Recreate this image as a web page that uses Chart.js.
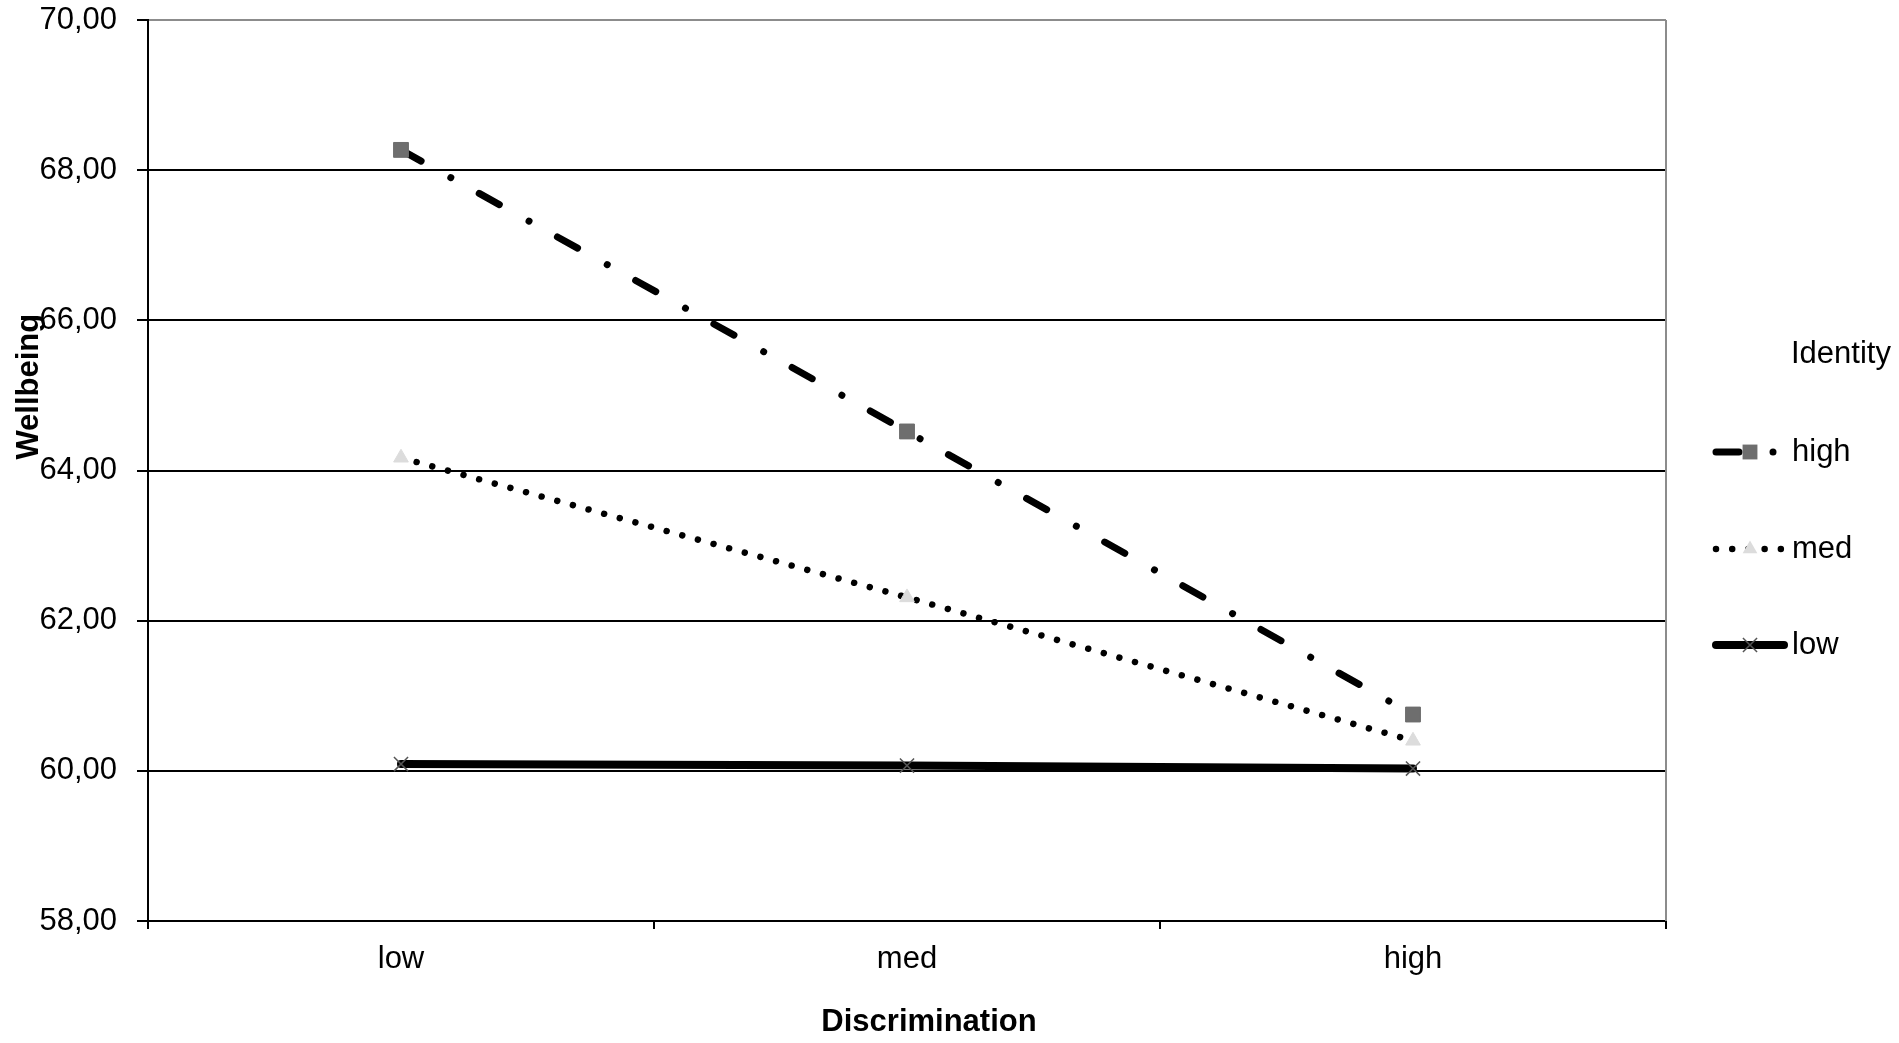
<!DOCTYPE html>
<html>
<head>
<meta charset="utf-8">
<script src="https://cdn.jsdelivr.net/npm/chart.js@4"></script>
<style>
html,body{margin:0;padding:0;background:#fff;}
#wrap{width:1899px;height:1043px;position:relative;}
canvas{display:block;}
</style>
</head>
<body>
<div id="wrap"><canvas id="c" width="1899" height="1043" style="width:1899px;height:1043px"></canvas></div>
<script>
// ---- data ----
const categories = ['low', 'med', 'high'];
const seriesNames = ['high', 'med', 'low'];
const highValues = [68.27, 64.52, 60.75];
const medValues = [64.17, 62.31, 60.40];
const lowValues = [60.09, 60.07, 60.03];
const yMin = 58;
const yMax = 70;
const yStep = 2;
const legendTitle = 'Identity';
const xTitle = 'Discrimination';
const yTitle = 'Wellbeing';

const FONT = "'Liberation Sans', Arial, sans-serif";

const styles = {
  high: { dash: [23, 34, 0.01, 32.5], width: 7, point: 'rect', radius: 10.5, fill: '#6e6e6e', border: '#6e6e6e', bw: 1 },
  med:  { dash: [0.01, 16.2], width: 6.5, point: 'triangle', radius: 8.5, fill: '#dcdcdc', border: '#dcdcdc', bw: 1 },
  low:  { dash: [], width: 8, point: 'crossRot', radius: 10, fill: '#555555', border: '#555555', bw: 1.5 }
};
const seriesValues = { high: highValues, med: medValues, low: lowValues };

const datasets = seriesNames.map(name => {
  const s = styles[name];
  return {
    label: name,
    data: seriesValues[name],
    borderColor: '#000000',
    borderWidth: s.width,
    borderDash: s.dash,
    borderCapStyle: 'round',
    borderJoinStyle: 'round',
    pointStyle: s.point,
    pointRadius: s.radius,
    pointHoverRadius: s.radius,
    pointBackgroundColor: s.fill,
    pointBorderColor: s.border,
    pointBorderWidth: s.bw,
    tension: 0,
    fill: false
  };
});

function drawMarker(ctx, name, x, y) {
  const s = styles[name];
  ctx.save();
  ctx.setLineDash([]);
  if (s.point === 'rect') {
    const h = s.radius * Math.SQRT1_2;
    ctx.fillStyle = s.fill;
    ctx.fillRect(x - h, y - h, 2 * h, 2 * h);
  } else if (s.point === 'triangle') {
    const r = s.radius;
    ctx.fillStyle = s.fill;
    ctx.beginPath();
    ctx.moveTo(x, y - r);
    ctx.lineTo(x + Math.sin(2 * Math.PI / 3) * r, y - Math.cos(2 * Math.PI / 3) * r);
    ctx.lineTo(x + Math.sin(4 * Math.PI / 3) * r, y - Math.cos(4 * Math.PI / 3) * r);
    ctx.closePath();
    ctx.fill();
  } else {
    const o = Math.SQRT1_2 * s.radius;
    ctx.strokeStyle = s.border;
    ctx.lineWidth = s.bw;
    ctx.beginPath();
    ctx.moveTo(x - o, y - o); ctx.lineTo(x + o, y + o);
    ctx.moveTo(x - o, y + o); ctx.lineTo(x + o, y - o);
    ctx.stroke();
  }
  ctx.restore();
}

const decorPlugin = {
  id: 'decor',
  afterDraw(chart) {
    const ctx = chart.ctx;
    const a = chart.chartArea;
    ctx.save();
    // right border of plot area
    ctx.strokeStyle = '#8c8c8c';
    ctx.lineWidth = 2;
    ctx.beginPath();
    ctx.moveTo(a.right, a.top);
    ctx.lineTo(a.right, a.bottom);
    ctx.stroke();

    ctx.fillStyle = '#000';
    // x axis title
    ctx.font = 'bold 31px ' + FONT;
    ctx.textAlign = 'center';
    ctx.textBaseline = 'middle';
    ctx.fillText(xTitle, a.left + (a.right - a.left) * 0.5145, 1022);
    // y axis title
    ctx.save();
    ctx.translate(29, a.top + (a.bottom - a.top) * 0.407);
    ctx.rotate(-Math.PI / 2);
    ctx.fillText(yTitle, 0, 0);
    ctx.restore();

    // legend
    const lx0 = 1713, lx1 = 1787, tx = 1791;
    ctx.font = '31px ' + FONT;
    ctx.textAlign = 'left';
    ctx.textBaseline = 'middle';
    ctx.fillText(legendTitle, tx, 354);
    const ys = [452, 549, 645];
    seriesNames.forEach((name, i) => {
      const s = styles[name];
      const y = ys[i];
      ctx.save();
      ctx.strokeStyle = '#000';
      ctx.lineWidth = s.width;
      ctx.lineCap = 'round';
      ctx.setLineDash(s.dash);
      ctx.beginPath();
      ctx.moveTo(lx0 + 3, y);
      ctx.lineTo(lx1 - 3, y);
      ctx.stroke();
      ctx.restore();
      drawMarker(ctx, name, 1750, y);
      ctx.fillStyle = '#000';
      ctx.fillText(name, tx + 1, y);
    });
    ctx.restore();
  }
};

new Chart(document.getElementById('c'), {
  type: 'line',
  data: { labels: categories, datasets: datasets },
  options: {
    responsive: false,
    devicePixelRatio: 1,
    animation: false,
    events: [],
    layout: { padding: { top: 0, right: 233, left: 0, bottom: 0 } },
    plugins: {
      legend: { display: false },
      tooltip: { enabled: false },
      title: { display: false }
    },
    scales: {
      x: {
        type: 'category',
        offset: true,
        grid: {
          offset: true,
          drawOnChartArea: false,
          drawTicks: true,
          tickLength: 8,
          tickWidth: 2,
          tickColor: '#000',
          color: '#000',
          lineWidth: 2
        },
        border: { display: true, color: '#000', width: 2 },
        ticks: {
          color: '#000',
          font: { family: FONT, size: 31 },
          padding: 12,
          maxRotation: 0
        },
        afterFit(scale) { scale.height = 122; }
      },
      y: {
        min: yMin,
        max: yMax,
        ticks: {
          stepSize: yStep,
          color: '#000',
          font: { family: FONT, size: 31 },
          padding: 20,
          callback: v => Number(v).toFixed(2).replace('.', ',')
        },
        grid: {
          drawOnChartArea: true,
          drawTicks: true,
          tickLength: 11,
          tickWidth: 2,
          tickColor: '#000',
          lineWidth: 2,
          color: ctx => (ctx.tick && ctx.tick.value === yMax) ? '#8c8c8c' : '#000'
        },
        border: { display: true, color: '#000', width: 2 },
        afterFit(scale) {
          scale.width = 148;
          scale.paddingTop = 20;
          scale.paddingBottom = 0;
        }
      }
    }
  },
  plugins: [decorPlugin]
});
</script>
</body>
</html>
